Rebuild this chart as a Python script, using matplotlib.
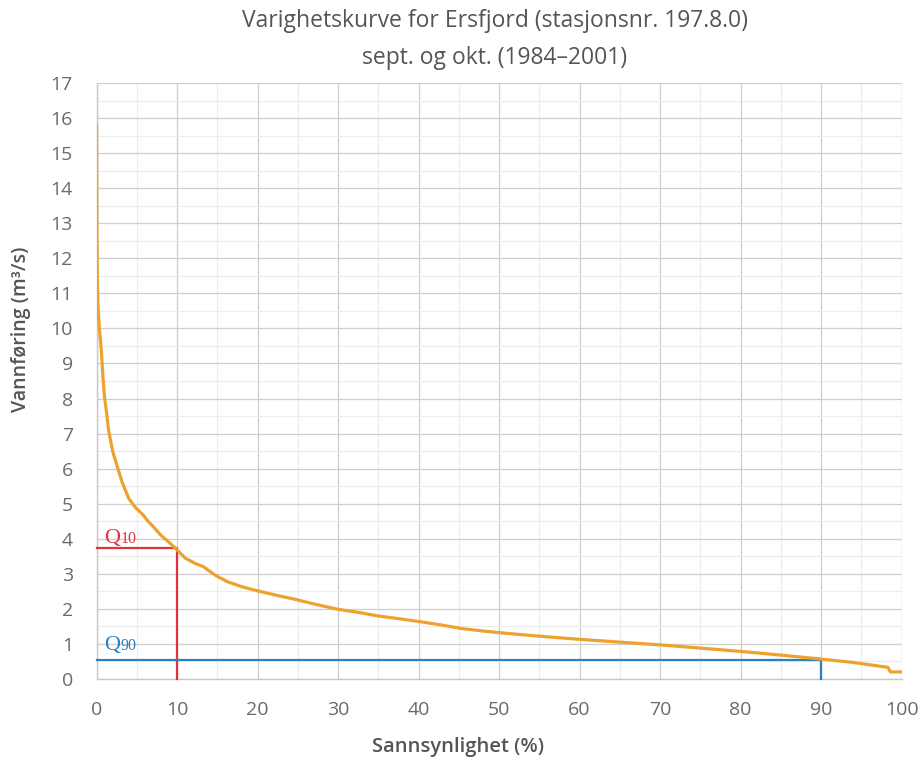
import matplotlib
matplotlib.use("Agg")
import matplotlib.pyplot as plt
from matplotlib.ticker import MultipleLocator

# Duration curve: exceedance probability (%) vs discharge (m3/s)
prob = [0.0, 0.02, 0.05, 0.1, 0.2, 0.35, 0.6, 0.8, 1.0, 1.3, 1.5, 2.0, 2.6,
        3.2, 4.0, 4.8, 5.7, 6.4, 7.1, 8.0, 9.0, 9.8, 11.0, 12.2, 13.3,
        14.8, 16.3, 18.2, 20.4, 22.5, 24.5, 27.0, 29.9, 32.5, 34.9,
        37.5, 40.3, 42.8, 45.3, 47.5, 50.0, 55.0, 60.0, 65.0, 70.1,
        75.0, 80.3, 85.0, 90.3, 94.0, 98.3, 98.6, 99.2, 100.0]
flow = [15.8, 15.0, 13.0, 11.4, 10.6, 10.0, 9.37, 8.6, 8.03, 7.5, 7.09, 6.5, 6.04,
        5.6, 5.15, 4.9, 4.7, 4.5, 4.33, 4.1, 3.9, 3.73, 3.45, 3.3, 3.2,
        2.95, 2.77, 2.62, 2.49, 2.38, 2.28, 2.14, 1.99, 1.9, 1.8,
        1.72, 1.63, 1.54, 1.44, 1.38, 1.32, 1.22, 1.13, 1.05, 0.97,
        0.88, 0.78, 0.68, 0.56, 0.47, 0.33, 0.2, 0.2, 0.2]

q10_prob, q10_flow = 10, 3.73
q90_prob, q90_flow = 90, 0.54

title_lines = ["Varighetskurve for Ersfjord (stasjonsnr. 197.8.0)",
               "sept. og okt. (1984\u20132001)"]
x_label = "Sannsynlighet (%)"
y_label = "Vannføring (m³/s)"

plt.rcParams['font.family'] = ['Open Sans', 'DejaVu Sans']

fig = plt.figure(figsize=(9.21, 7.62), dpi=100)
ax = fig.add_axes([0.1048, 0.109, 0.8742, 0.782])

ax.set_xlim(0, 100)
ax.set_ylim(0, 17)
ax.xaxis.set_major_locator(MultipleLocator(10))
ax.xaxis.set_minor_locator(MultipleLocator(5))
ax.yaxis.set_major_locator(MultipleLocator(1))
ax.yaxis.set_minor_locator(MultipleLocator(0.5))

ax.grid(which='major', color='#cfcfcf', linewidth=0.9, zorder=0)
ax.grid(which='minor', color='#ececec', linewidth=0.8, zorder=0)
ax.set_axisbelow(True)
for side in ['top', 'right']:
    ax.spines[side].set_visible(False)
for side in ['left', 'bottom']:
    ax.spines[side].set_color('#c8c8c8')
    ax.spines[side].set_linewidth(1.0)

ax.tick_params(which='both', length=0, colors='#6a6a6a', labelsize=14)
ax.tick_params(axis='x', pad=16)
ax.tick_params(axis='y', pad=17)

# Q10 and Q90 guides
ax.plot([0, q10_prob, q10_prob], [q10_flow, q10_flow, 0], color='#e0323c',
        linewidth=1.6, zorder=3, clip_on=False)
ax.plot([0, q90_prob, q90_prob], [q90_flow, q90_flow, 0], color='#2b80c2',
        linewidth=1.6, zorder=3, clip_on=False)

ax.plot(prob, flow, color='#eea22e', linewidth=2.3, zorder=4,
        solid_joinstyle='round')

for (xv, yv, sub, col) in [(1.0, q10_flow + 0.15, "10", '#e0323c'),
                           (1.0, q90_flow + 0.28, "90", '#2b80c2')]:
    ax.text(xv, yv, "Q", color=col, fontsize=16, family=['Liberation Serif'],
            ha='left', va='baseline')
    ax.annotate(sub, xy=(xv, yv), xytext=(11.5, 0), textcoords='offset points',
                color=col, fontsize=11.5, family=['Liberation Serif'],
                ha='left', va='baseline')

fig.text(0.537, 0.972, title_lines[0], ha='center', va='center',
         fontsize=16.5, color='#555555')
fig.text(0.537, 0.924, title_lines[1], ha='center', va='center',
         fontsize=16.5, color='#555555')

fig.text(458 / 921, 1 - 747 / 762, x_label, ha='center', va='center',
         fontsize=14.5, color='#555555', fontweight='semibold')
fig.text(21 / 921, 1 - 329 / 762, y_label, ha='center', va='center',
         rotation=90, fontsize=14, color='#555555', fontweight='semibold')

fig.savefig("out.png", dpi=100, facecolor='white')
